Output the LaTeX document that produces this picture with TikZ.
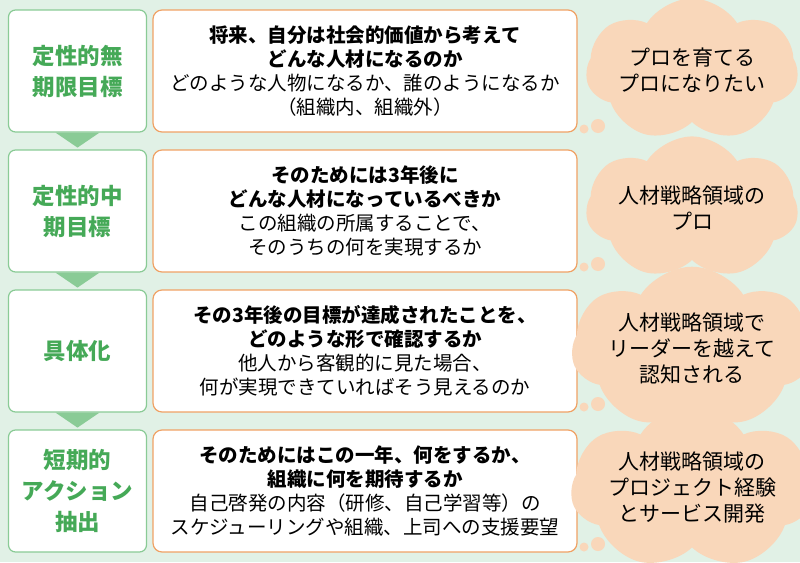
\documentclass[tikz,border=0pt]{standalone}
\usepackage{fontspec}
\setmainfont{Noto Sans CJK JP}
\usetikzlibrary{shapes.symbols}
\definecolor{bgmint}{HTML}{E1F1E6}
\definecolor{stepgreen}{HTML}{8ACB96}
\definecolor{textgreen}{HTML}{45A957}
\definecolor{boxorange}{HTML}{F0A265}
\definecolor{cloudpeach}{HTML}{F9D7BA}
\tikzset{
  stagebox/.style={draw=stepgreen,line width=1.2pt,fill=white,rounded corners=7pt,
    minimum width=138pt,minimum height=122pt,align=center,text=textgreen,
    font=\fontsize{22.5}{31}\selectfont\bfseries},
  goalbox/.style={draw=boxorange,line width=1.2pt,fill=white,rounded corners=9pt,
    minimum width=424pt,minimum height=122pt,align=center,
    font=\fontsize{19.5}{24}\selectfont},
  thought/.style={cloud,cloud puffs=7,cloud puff arc=115,aspect=2,fill=cloudpeach,
    minimum width=200pt,minimum height=104pt,inner sep=0pt,align=center,
    font=\fontsize{21}{26}\selectfont},
  puff/.style={circle,fill=cloudpeach,inner sep=0pt},
  downtip/.style={fill=stepgreen}
}
\begin{document}
\begin{tikzpicture}[x=1pt,y=-1pt]
\fill[bgmint] (0,0) rectangle (800,562);
\useasboundingbox (0,0) rectangle (800,562);

% stages on the left
\foreach \i/\yc/\txt in {1/71/定性的無\\期限目標, 2/211/定性的中\\期目標, 3/351/具体化, 4/491/短期的\\アクション\\抽出}
  \node[stagebox] (stage\i) at (77.5,\yc) {\txt};

% arrows between the stages
\foreach \i in {1,2,3}
  \fill[downtip] ([xshift=-22pt]stage\i.south) -- ([xshift=22pt]stage\i.south) -- ([yshift=-15pt]stage\i.south) -- cycle;

% goal boxes
\node[goalbox] (goal1) at (365,71) {\textbf{将来、自分は社会的価値から考えて}\\\textbf{どんな人材になるのか}\\どのような人物になるか、誰のようになるか\\（組織内、組織外）};
\node[goalbox] (goal2) at (365,211) {\textbf{そのためには3年後に}\\\textbf{どんな人材になっているべきか}\\この組織の所属することで、\\そのうちの何を実現するか};
\node[goalbox] (goal3) at (365,351) {\textbf{その3年後の目標が達成されたことを、}\\\textbf{どのような形で確認するか}\\他人から客観的に見た場合、\\何が実現できていればそう見えるのか};
\node[goalbox] (goal4) at (365,491) {\textbf{そのためにはこの一年、何をするか、}\\\textbf{組織に何を期待するか}\\自己啓発の内容（研修、自己学習等）の\\スケジューリングや組織、上司への支援要望};

% thought clouds on the right
\foreach \i/\yc/\txt in {1/70/プロを育てる\\プロになりたい, 2/208/人材戦略領域の\\プロ, 3/348/人材戦略領域で\\リーダーを越えて\\認知される, 4/488/人材戦略領域の\\プロジェクト経験\\とサービス開発} {
  \node[thought] (idea\i) at (692,\yc) {\txt};
  \node[puff,minimum size=14pt] (puffa\i) at (598,\yc+56) {};
  \node[puff,minimum size=9pt] (puffb\i) at (584,\yc+59) {};
}
\end{tikzpicture}
\end{document}
